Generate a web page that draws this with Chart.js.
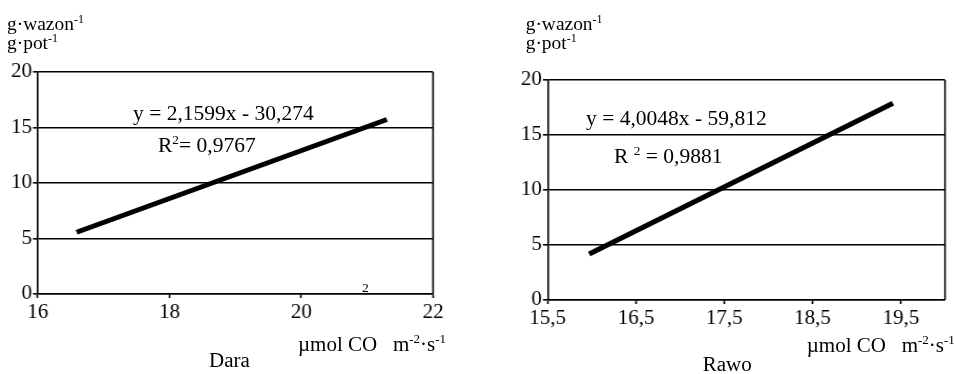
<!DOCTYPE html>
<html>
<head>
<meta charset="utf-8">
<script src="https://cdn.jsdelivr.net/npm/chart.js@4/dist/chart.umd.min.js"></script>
<style>
  html, body { margin:0; padding:0; background:#fff; }
  body { width:954px; height:374px; position:relative; overflow:hidden; font-family:"Liberation Serif","Times New Roman",serif; color:#000; }
  .wrap { position:absolute; top:0; width:455px; height:374px; transform:scaleX(1.05); transform-origin:0 0; }
  .wrap canvas { position:absolute; left:0; top:0; }
  .t { position:absolute; line-height:1; white-space:pre; }
  .sup { font-size:0.62em; vertical-align:0.62em; line-height:0; }
</style>
</head>
<body>
<div class="wrap" id="w1" style="left:0px;"><canvas id="c1" width="455" height="374"></canvas></div>
<div class="wrap" id="w2" style="left:477px;"><canvas id="c2" width="455" height="374"></canvas></div>
<script>
// ---- data ----
const yTicks = [0, 5, 10, 15, 20];
const daraXTicks = [16, 18, 20, 22];
const daraX = [16.59, 21.3];
const daraY = [5.56, 15.72];
const rawoXTicks = [15.5, 16.5, 17.5, 18.5, 19.5];
const rawoX = [15.97, 19.41];
const rawoY = [4.18, 17.88];
const daraEq = "y = 2,1599x - 30,274";
const daraR2 = "0,9767";
const rawoEq = "y = 4,0048x - 59,812";
const rawoR2 = "0,9881";

const FONT = '"Liberation Serif","Times New Roman",serif';
const S = 1.05;     // slight horizontal stretch of the reference
const W = 455, H = 374;

const frame = {
  id: 'frame',
  beforeDatasetsDraw(chart) {
    const { ctx, chartArea: a } = chart;
    ctx.save();
    ctx.strokeStyle = '#000';
    ctx.lineWidth = 1.6;
    ctx.beginPath();
    ctx.moveTo(a.right, a.top);
    ctx.lineTo(a.right, a.bottom);
    ctx.stroke();
    ctx.restore();
  }
};

function makeChart(id, xs, ys, xTicks, xMin, xMax, area, yLabelPad) {
  const pts = xs.map((x, i) => ({ x: x, y: ys[i] }));
  return new Chart(document.getElementById(id), {
    type: 'scatter',
    data: { datasets: [{ data: pts, showLine: true, borderColor: '#000', borderWidth: 5, pointRadius: 0, fill: false }] },
    plugins: [frame],
    options: {
      responsive: false, animation: false, devicePixelRatio: 1,
      layout: { padding: { left: 0, top: area.top, right: W - area.right, bottom: 0 } },
      plugins: { legend: { display: false }, tooltip: { enabled: false } },
      scales: {
        x: {
          type: 'linear', min: xMin, max: xMax,
          afterBuildTicks: s => { s.ticks = xTicks.map(v => ({ value: v })); },
          afterFit: s => { s.height = H - area.bottom; },
          grid: { drawOnChartArea: false, tickLength: 4, tickColor: '#000', tickWidth: 1.6 },
          border: { display: true, color: '#000', width: 1.6 },
          ticks: { color: '#000', font: { family: FONT, size: 20 }, padding: 3, maxRotation: 0, autoSkip: false,
                   callback: v => String(v).replace('.', ',') }
        },
        y: {
          type: 'linear', min: 0, max: 20,
          afterBuildTicks: s => { s.ticks = yTicks.map(v => ({ value: v })); },
          afterFit: s => { s.width = area.left; },
          grid: { color: '#000', lineWidth: 1.6, tickLength: 4.5, tickColor: '#000', tickWidth: 1.6 },
          border: { display: true, color: '#000', width: 1.6 },
          ticks: { color: '#000', font: { family: FONT, size: 20 }, padding: yLabelPad,
                   callback: v => String(v) }
        }
      }
    }
  });
}

makeChart('c1', daraX, daraY, daraXTicks, 16, 22, { left: 35.9, right: 412.4, top: 72, bottom: 294 }, 1);
makeChart('c2', rawoX, rawoY, rawoXTicks, 15.5, 20, { left: 67.3, right: 445.7, top: 80, bottom: 300 }, 1);

// ---- text labels (positioned by baseline in page coordinates) ----
function addText(wrapId, wrapLeft, pageX, baseline, size, html) {
  const d = document.createElement('div');
  d.className = 't';
  d.style.left = ((pageX - wrapLeft) / S) + 'px';
  d.style.top = (baseline - 0.8375 * size) + 'px';
  d.style.fontSize = size + 'px';
  d.innerHTML = html;
  document.getElementById(wrapId).appendChild(d);
}
const sup = s => '<span class="sup">' + s + '</span>';

addText('w1', 0, 7, 30, 18.5, 'g·wazon' + sup('-1'));
addText('w1', 0, 7, 49.3, 18.5, 'g·pot' + sup('-1'));
addText('w1', 0, 133, 120, 20.5, daraEq);
addText('w1', 0, 158, 151.7, 20.5, 'R' + sup('2') + '= ' + daraR2);
addText('w1', 0, 362, 292, 13, '2');
addText('w1', 0, 298, 351, 20, 'µmol CO   m' + sup('-2') + '·s' + sup('-1'));
addText('w1', 0, 209, 366.5, 20, 'Dara');

addText('w2', 477, 525.7, 30, 18.5, 'g·wazon' + sup('-1'));
addText('w2', 477, 525.7, 49.3, 18.5, 'g·pot' + sup('-1'));
addText('w2', 477, 586, 125, 20.5, rawoEq);
addText('w2', 477, 614, 163, 20.5, 'R ' + sup('2') + ' = ' + rawoR2);
addText('w2', 477, 806.7, 352, 20, 'µmol CO   m' + sup('-2') + '·s' + sup('-1'));
addText('w2', 477, 702.7, 371, 20, 'Rawo');
</script>
</body>
</html>
